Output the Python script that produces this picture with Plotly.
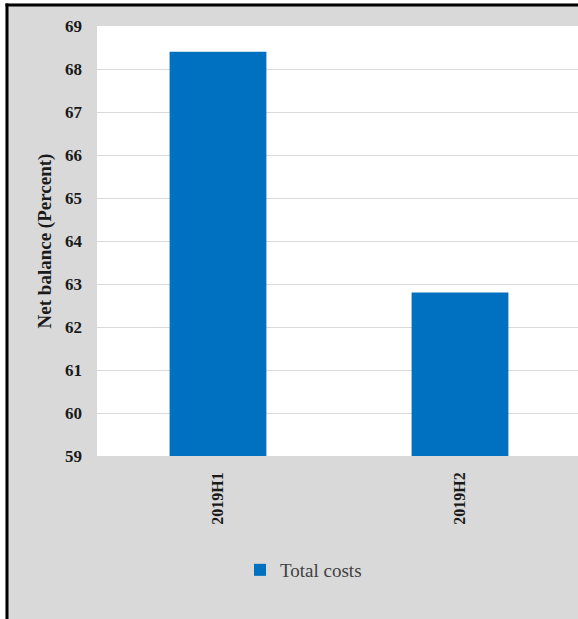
import plotly.graph_objects as go

# Data
categories = ["2019H1", "2019H2"]
total_costs = [68.4, 62.8]
series_name = "Total costs"
y_title = "Net balance (Percent)"

W, H = 578, 619
M_L, M_R, M_T, M_B = 97, 0, 26, 163
PW = W - M_L - M_R
PH = H - M_T - M_B


def xp(px):
    return (px - M_L) / PW


def yp(py):
    return (H - M_B - py) / PH


fig = go.Figure()
fig.add_trace(go.Bar(
    x=categories,
    y=total_costs,
    name=series_name,
    marker=dict(color="#0070C0", line=dict(width=0)),
    showlegend=True,
))

serif = "Liberation Serif"

fig.update_layout(
    width=W,
    height=H,
    margin=dict(l=M_L, r=M_R, t=M_T, b=M_B, pad=0),
    paper_bgcolor="#d9d9d9",
    plot_bgcolor="#ffffff",
    bargap=0.6,
    showlegend=True,
    legend=dict(
        orientation="h",
        x=xp(240), y=yp(570),
        xanchor="left", yanchor="middle",
        bgcolor="rgba(0,0,0,0)",
        font=dict(family=serif, size=19, color="#404040"),
        itemwidth=30,
    ),
    xaxis=dict(
        type="category",
        range=[-0.5, len(categories) - 0.5 - 0.0124],
        tickangle=-90,
        tickfont=dict(family=serif, size=16, color="#1a1a1a", weight="bold"),
        showgrid=False,
        showline=False,
        ticks="",
        ticklabelstandoff=12,
    ),
    yaxis=dict(
        range=[59, 69],
        dtick=1,
        tickfont=dict(family=serif, size=17, color="#1a1a1a", weight="bold"),
        showgrid=True,
        gridcolor="#d9d9d9",
        gridwidth=1,
        zeroline=False,
        showline=False,
        ticks="",
        ticklabelstandoff=14,
        title=dict(
            text=y_title,
            font=dict(family=serif, size=19, color="#1a1a1a", weight="bold"),
            standoff=8,
        ),
    ),
    shapes=[
        # white margin outside the chart frame
        dict(type="rect", xref="paper", yref="paper",
             x0=xp(-10), x1=xp(5.5), y0=yp(640), y1=yp(-10),
             fillcolor="#ffffff", line=dict(width=0), layer="below"),
        dict(type="rect", xref="paper", yref="paper",
             x0=xp(-10), x1=xp(600), y0=yp(3.5), y1=yp(-10),
             fillcolor="#ffffff", line=dict(width=0), layer="below"),
        # black frame edges
        dict(type="line", xref="paper", yref="paper",
             x0=xp(7), x1=xp(7), y0=yp(640), y1=yp(3.5),
             line=dict(color="#000000", width=3)),
        dict(type="line", xref="paper", yref="paper",
             x0=xp(5.5), x1=xp(600), y0=yp(5), y1=yp(5),
             line=dict(color="#000000", width=3)),
    ],
)

fig.write_html("out.html")
